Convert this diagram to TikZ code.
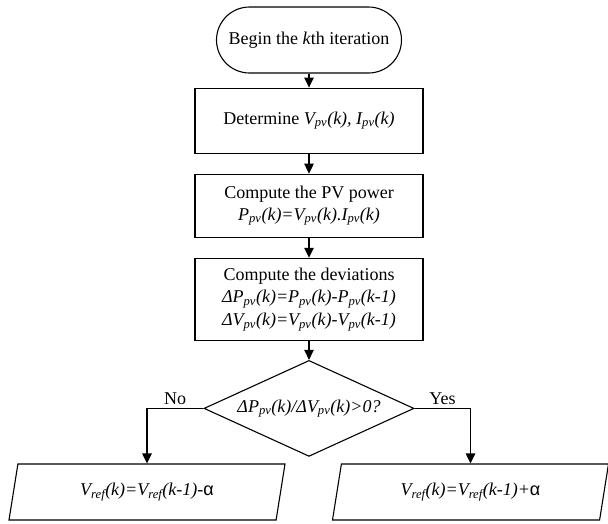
\documentclass[tikz,border=0pt]{standalone}
\usepackage{fontspec}
\setmainfont{Liberation Serif}
\newfontfamily\alphafont{Liberation Sans}
\usetikzlibrary{positioning,shapes.geometric,arrows.meta}
\newcommand{\pv}{\textsubscript{pv}}
\newcommand{\rf}{\textsubscript{ref}}

\begin{document}
\begin{tikzpicture}[x=1pt,y=-1pt,
    every node/.style={font=\fontsize{18}{22}\selectfont},
    line/.style={line width=1.1pt},
    arr/.style={line, -{Triangle[length=10pt,width=9.5pt]}},
    procbox/.style={draw, line, minimum width=228pt, align=center, inner sep=2pt},
    ioblock/.style={draw, line, trapezium, trapezium left angle=63.8, trapezium right angle=116.2,
        trapezium stretches body, minimum width=276pt, minimum height=56pt, inner sep=0pt}]
            \useasboundingbox (0,0) rectangle (608,523);
            \node[draw, line, rounded corners=33pt, minimum width=185pt, minimum height=66pt] (start) at (309,40) {Begin the \textit{k}th iteration};
            \node[procbox, minimum height=65pt, below=14pt of start] (meas) {Determine \textit{V\pv(k), I\pv(k)}};
            \node[procbox, minimum height=63pt, below=20pt of meas] (power) {Compute the PV power\\ \textit{P\pv(k)=V\pv(k).I\pv(k)}};
            \node[procbox, minimum height=82pt, below=20pt of power, font=\fontsize{18}{22.5}\selectfont] (dev) {Compute the deviations\\ \textit{ΔP\pv(k)=P\pv(k)-P\pv(k-1)}\\ \textit{ΔV\pv(k)=V\pv(k)-V\pv(k-1)}};
            \node[draw, line, diamond, aspect=2.2, inner sep=0pt, minimum width=210pt, minimum height=96pt, below=19pt of dev] (test) {\textit{ΔP\pv(k)/ΔV\pv(k)>0?}};
            \node[ioblock] (dec) at (147,492) {\textit{V\rf(k)=V\rf(k-1)-}{\alphafont α}};
            \node[ioblock] (inc) at (470.5,492) {\textit{V\rf(k)=V\rf(k-1)+}{\alphafont α}};
            \draw[arr] (start) -- (meas);
            \draw[arr] (meas) -- (power);
            \draw[arr] (power) -- (dev);
            \draw[arr] (dev) -- (test);
            \draw[arr] (test.west) -| node[pos=0.25, above] {No} (dec.north);
            \draw[arr] (test.east) -| node[pos=0.25, above] {Yes} (inc.north);
        \end{tikzpicture}
\end{document}
